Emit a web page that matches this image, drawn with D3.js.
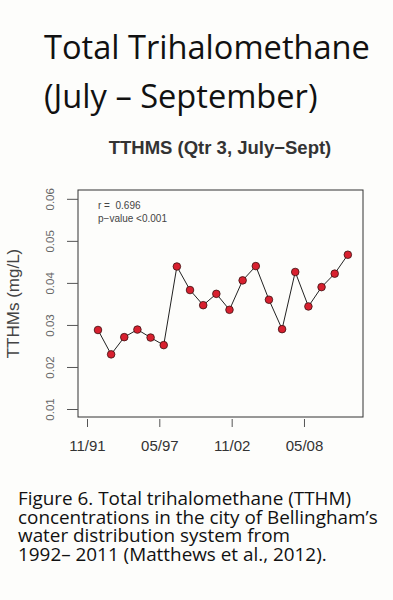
<!DOCTYPE html>
<html>
<head>
<meta charset="utf-8">
<script src="https://cdn.jsdelivr.net/npm/d3@7"></script>
<style>
  body { margin: 0; background: #fdfdfb; }
  svg { display: block; }
  text { white-space: pre; }
</style>
</head>
<body>
<svg id="chart"></svg>
<script>
// sampling dates (Qtr 3 each year) and TTHM values in mg/L
const sampleDates = ["1992-09","1993-09","1994-09","1995-09","1996-09","1997-09","1998-09","1999-09",
  "2000-09","2001-09","2002-09","2003-09","2004-09","2005-09","2006-09","2007-09",
  "2008-09","2009-09","2010-09","2011-09"]
const tthmValues = [0.0288, 0.0230, 0.0271, 0.0289, 0.0270, 0.0252, 0.0439, 0.0383,
  0.0347, 0.0374, 0.0336, 0.0406, 0.0440, 0.0360, 0.0290, 0.0426,
  0.0344, 0.0390, 0.0422, 0.0467]
const xTickDates = ["1991-11","1997-05","2002-11","2008-05"]
const xTickLabels = ["11/91","05/97","11/02","05/08"]
const yTicks = [0.01, 0.02, 0.03, 0.04, 0.05, 0.06]

const width = 393
const height = 600
const parse = d3.timeParse("%Y-%m")

const svg = d3.select("#chart")
  .attr("width", width)
  .attr("height", height)

// shrink/grow a text block so its widest line spans the given width
function fitWidth(sel, target) {
  let w = 0
  sel.selectAll("tspan").each(function () { w = Math.max(w, this.getComputedTextLength()) })
  const fs = +sel.attr("font-size")
  sel.attr("font-size", fs * target / w)
}

// headline
const head = svg.append("text")
  .attr("font-family", "'Open Sans', sans-serif")
  .attr("font-size", 36)
  .attr("fill", "#111")
head.append("tspan").attr("x", 44).attr("y", 59).text("Total Trihalomethane")
head.append("tspan").attr("x", 44).attr("y", 108).text("(July \u2013 September)")
fitWidth(head, 326)

// plot region
const box = {left: 78, right: 363, top: 190, bottom: 417}

const x = d3.scaleTime()
  .domain([new Date(1991, 1, 24), new Date(2012, 9, 26)])
  .range([box.left, box.right])

const y = d3.scaleLinear()
  .domain([0.0081, 0.0621])
  .range([box.bottom, box.top])

svg.append("text")
  .attr("x", 220)
  .attr("y", 154)
  .attr("text-anchor", "middle")
  .attr("font-family", "'Liberation Sans', Arial, sans-serif")
  .attr("font-weight", "bold")
  .attr("font-size", 18.5)
  .attr("fill", "#333")
  .text("TTHMS (Qtr 3, July\u2212Sept)")

svg.append("rect")
  .attr("x", box.left)
  .attr("y", box.top)
  .attr("width", box.right - box.left)
  .attr("height", box.bottom - box.top)
  .attr("fill", "none")
  .attr("stroke", "#333")
  .attr("stroke-width", 1)

// y axis
const yAxis = svg.append("g")
  .attr("transform", `translate(${box.left},0)`)
  .call(d3.axisLeft(y).tickValues(yTicks).tickSize(11).tickPadding(5).tickFormat(d3.format(".2f")))
yAxis.select(".domain").remove()
yAxis.selectAll(".tick line").attr("stroke", "#555")
yAxis.selectAll(".tick text")
  .attr("font-family", "'Liberation Sans', Arial, sans-serif")
  .attr("font-size", 11.5)
  .attr("fill", "#666")
  .attr("text-anchor", "middle")
  .attr("transform", "rotate(-90)")
  .attr("x", 0)
  .attr("dy", 0)
  .attr("y", -24)

// x axis
const xAxis = svg.append("g")
  .attr("transform", `translate(0,${box.bottom + 2})`)
  .call(d3.axisBottom(x).tickValues(xTickDates.map(parse)).tickSize(8).tickPadding(13)
    .tickFormat((d, i) => xTickLabels[i]))
xAxis.select(".domain").remove()
xAxis.selectAll(".tick line").attr("stroke", "#555")
xAxis.selectAll(".tick text")
  .attr("font-family", "'Liberation Sans', Arial, sans-serif")
  .attr("font-size", 15)
  .attr("fill", "#333")

svg.append("text")
  .attr("transform", `translate(19,${(box.top + box.bottom) / 2}) rotate(-90)`)
  .attr("text-anchor", "middle")
  .attr("font-family", "'Liberation Sans', Arial, sans-serif")
  .attr("font-size", 17)
  .attr("fill", "#444")
  .text("TTHMs (mg/L)")

// stats note
const note = svg.append("text")
  .attr("font-family", "'Liberation Sans', Arial, sans-serif")
  .attr("font-size", 10)
  .attr("fill", "#444")
note.append("tspan").attr("x", 98).attr("y", 209).text("r =  0.696")
note.append("tspan").attr("x", 98).attr("y", 222).text("p\u2212value <0.001")

const data = sampleDates.map((d, i) => ({date: parse(d), value: tthmValues[i]}))

svg.append("path")
  .datum(data)
  .attr("fill", "none")
  .attr("stroke", "#222")
  .attr("stroke-width", 1)
  .attr("d", d3.line().x(d => x(d.date)).y(d => y(d.value)))

svg.selectAll("circle.pt")
  .data(data)
  .join("circle")
  .attr("class", "pt")
  .attr("cx", d => x(d.date))
  .attr("cy", d => y(d.value))
  .attr("r", 3.8)
  .attr("fill", "#d8202f")
  .attr("stroke", "#3a1010")
  .attr("stroke-width", 0.8)

// caption
const cap = svg.append("text")
  .attr("font-family", "'Open Sans', sans-serif")
  .attr("font-size", 15.5)
  .attr("fill", "#111")
const capLines = ["Figure 6. Total trihalomethane (TTHM)",
  "concentrations in the city of Bellingham\u2019s",
  "water distribution system from",
  "1992\u2013 2011 (Matthews et al., 2012)."]
cap.selectAll("tspan")
  .data(capLines)
  .join("tspan")
  .attr("x", 18)
  .attr("y", (d, i) => 505 + i * 18.5)
  .text(d => d)
fitWidth(cap, 360)
</script>
</body>
</html>
